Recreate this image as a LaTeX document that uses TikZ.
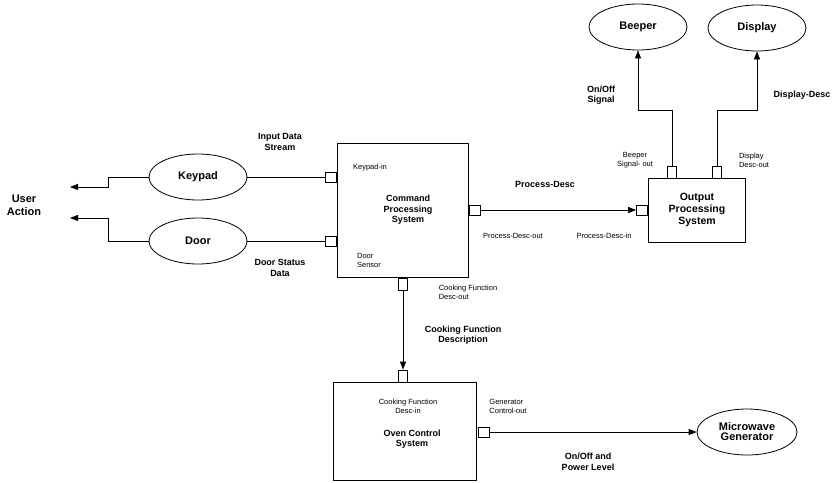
\documentclass[tikz,border=0pt]{standalone}
\usepackage{fontspec}
\setmainfont{Liberation Sans}
\usetikzlibrary{arrows.meta,shapes.geometric}

\tikzset{
  blk/.style={draw, thick, inner sep=0pt},
  oval/.style={draw, thick, ellipse, minimum width=98pt, minimum height=46pt,
    font=\fontsize{11}{12}\selectfont\bfseries},
  port/.style={draw, thick, fill=white, inner sep=0pt, minimum width=11pt, minimum height=10pt},
  vport/.style={port, minimum width=9pt, minimum height=12pt},
  lbl/.style={font=\fontsize{9}{10.5}\selectfont\bfseries, align=center},
  sml/.style={font=\fontsize{7.5}{9}\selectfont, align=left},
  flow/.style={thick, -{Triangle[length=8pt,width=6pt]}}
}

\begin{document}
\begin{tikzpicture}[x=1pt,y=-1pt]
  \useasboundingbox (0,0) rectangle (837,482);

  % blocks
  \draw[thick] (337,143) rectangle (468,277);
  \draw[thick] (648,178) rectangle (745,242);
  \draw[thick] (333,382) rectangle (476,480);

  \node[oval] (keypad) at (198,177) {Keypad};
  \node[oval] (door) at (198,241) {Door};
  \node[oval] (beeper) at (638,27) {Beeper};
  \node[oval] (display) at (757,28) {Display};
  \node[oval, align=center, minimum width=100pt] (micro) at (747,432) {Microwave\\[-2pt]Generator};

  % ports
  \node[port] (kin) at (331,177) {};
  \node[port] (dsens) at (331,241) {};
  \node[port] (pdout) at (475,210) {};
  \node[port] (pdin) at (642,210) {};
  \node[vport] (bout) at (672,172) {};
  \node[vport] (dout) at (717,172) {};
  \node[vport] (cfout) at (403,284) {};
  \node[vport] (cfin) at (403,376) {};
  \node[port] (gout) at (484,432) {};

  % user action
  \coordinate (ua1) at (70,187);
  \coordinate (ua2) at (70,218);
  \draw[flow] (keypad.west) -- (108,177) |- (ua1);
  \draw[flow] (door.west) -- (108,241) |- (ua2);
  \node[font=\fontsize{11}{13}\selectfont\bfseries, align=center] (user) at (24,205) {User\\Action};

  % connectors
  \draw[thick] (keypad.east) -- (kin.west);
  \draw[thick] (door.east) -- (dsens.west);
  \draw[flow] (pdout.east) -- (pdin.west);
  \draw[flow] (bout.north) -- (672,110) -| (beeper.south);
  \draw[flow] (dout.north) -- (717,110) -| (display.south);
  \draw[flow] (cfout.south) -- (cfin.north);
  \draw[flow] (gout.east) -- (micro.west);

  % labels
  \node[lbl] at (280,142) {Input Data\\Stream};
  \node[lbl] at (280,268) {Door Status\\Data};
  \node[lbl, align=center] at (408,210) {Command\\Processing\\System};
  \node[lbl, font=\fontsize{10.5}{12}\selectfont\bfseries] at (697,210) {Output\\Processing\\System};
  \node[lbl] at (412,439) {Oven Control\\System};
  \node[lbl] at (545,184) {Process-Desc};
  \node[lbl] at (601,95) {On/Off\\Signal};
  \node[lbl] at (802,95) {Display-Desc};
  \node[lbl] at (463,335) {Cooking Function\\Description};
  \node[lbl] at (588,462) {On/Off and\\Power Level};

  \node[sml] at (370,168) {Keypad-in};
  \node[sml] at (369,260) {Door\\Sensor};
  \node[sml] at (513,236) {Process-Desc-out};
  \node[sml] at (604,236) {Process-Desc-in};
  \node[sml, align=center] at (635,160) {Beeper\\Signal- out};
  \node[sml] at (754,160) {Display\\Desc-out};
  \node[sml] at (468,292) {Cooking Function\\Desc-out};
  \node[sml, align=center] at (408,406) {Cooking Function\\Desc-in};
  \node[sml] at (508,406) {Generator\\Control-out};
\end{tikzpicture}
\end{document}
